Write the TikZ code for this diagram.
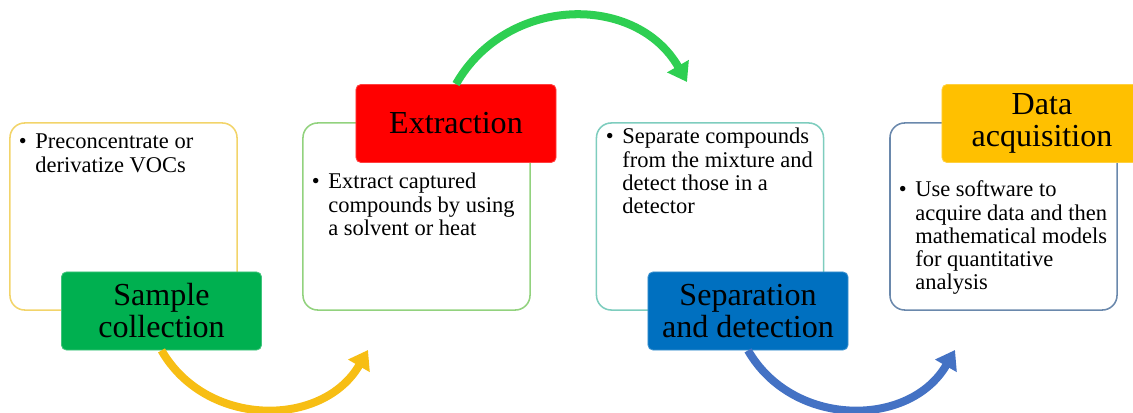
\documentclass[tikz,border=0pt]{standalone}
\usepackage{fontspec}
\setmainfont{Liberation Serif}
\usetikzlibrary{arrows.meta}

\definecolor{goldline}{HTML}{F2D46A}
\definecolor{limeline}{HTML}{92D27E}
\definecolor{tealline}{HTML}{7ECDBE}
\definecolor{slateline}{HTML}{6A88AC}
\definecolor{leafgreen}{HTML}{00B050}
\definecolor{signalred}{HTML}{FF0000}
\definecolor{deepblue}{HTML}{0070C0}
\definecolor{amber}{HTML}{FFC000}
\definecolor{arrowgold}{HTML}{F7BE14}
\definecolor{arrowgreen}{HTML}{2ECF52}
\definecolor{arrowblue}{HTML}{4472C4}

\newcommand{\bitem}[1]{\begin{tabular}[t]{@{}l@{\hspace{6pt}}l@{}}\textbullet & #1\end{tabular}}

\begin{document}
\begin{tikzpicture}[x=0.025cm,y=-0.025cm]
  \tikzset{frame/.style = {shape=rectangle,draw,rounded corners=10.5pt,line width=1.1pt,minimum width=5.675cm,minimum height=4.675cm,inner sep=0pt}}
  \tikzset{stage/.style = {shape=rectangle,rounded corners=3.5pt,line width=0.6pt,minimum width=5cm,minimum height=1.95cm,inner sep=0pt,align=center,font=\fontsize{22.8}{22.8}\selectfont}}
  \tikzset{note/.style = {anchor=base west,inner sep=0pt,font=\fontsize{16}{16.4}\selectfont}}
  \tikzset{flow/.style = {line width=5.7pt,-{Triangle[length=13pt,width=17pt]}}}

  \useasboundingbox (0,0) rectangle (1133,413);

  % outline boxes
  \node[frame,draw=goldline] (F1) at (123.5,216.5) {};
  \node[frame,draw=limeline] (F2) at (416.5,216.5) {};
  \node[frame,draw=tealline] (F3) at (710,216.5) {};
  \node[frame,draw=slateline] (F4) at (1003.5,216.5) {};

  % bullet texts
  \node[note] (N1) at (18.7,149) {\bitem{Preconcentrate or\\ & derivatize VOCs}};
  \node[note] (N2) at (311.7,189) {\bitem{Extract captured\\ & compounds by using\\ & a solvent or heat}};
  \node[note] (N3) at (605.7,144) {\bitem{Separate compounds\\ & from the mixture and\\ & detect those in a\\ & detector}};
  \node[note] (N4) at (898.7,197) {\bitem{Use software to\\ & acquire data and then\\ & mathematical models\\ & for quantitative\\ & analysis}};

  % stage labels
  \node[stage,fill=leafgreen,draw=leafgreen!75!white] (S1) at (161.5,311) {Sample\\collection};
  \node[stage,fill=signalred,draw=signalred!75!white] (S2) at (456,123.5) {Extraction};
  \node[stage,fill=deepblue,draw=deepblue!75!white] (S3) at (748,311) {Separation\\and detection};
  \node[stage,fill=amber,draw=amber!75!white] (S4) at (1042,123.5) {Data\\acquisition};

  % arrow ends
  \coordinate (E1) at (368,350);
  \coordinate (E2) at (687,82);
  \coordinate (E3) at (955,350);

  \draw[flow,arrowgold] (S1.south) .. controls +(45,78) and +(-45,78) .. (E1);
  \draw[flow,arrowgreen] (S2.north) .. controls +(51,-89) and +(-51,-89) .. (E2);
  \draw[flow,arrowblue] (S3.south) .. controls +(45,78) and +(-45,78) .. (E3);
\end{tikzpicture}
\end{document}
